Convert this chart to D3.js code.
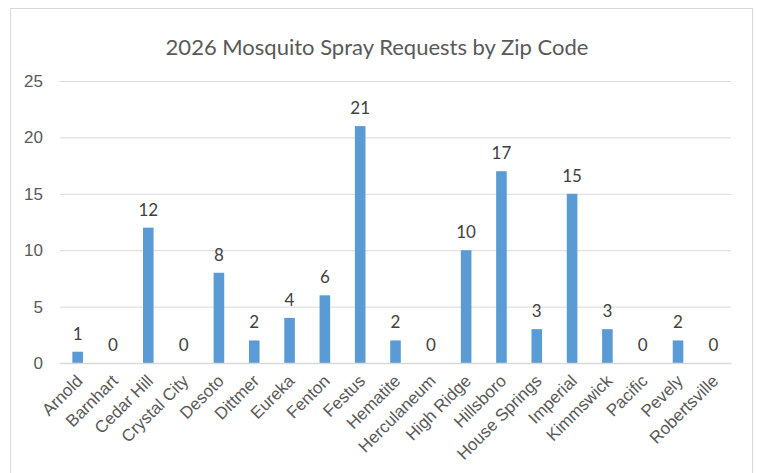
<!DOCTYPE html>
<html>
<head>
<meta charset="utf-8">
<script src="https://cdn.jsdelivr.net/npm/d3@7"></script>
<style>
  body { margin: 0; background: #fff; }
  svg { display: block; font-family: Lato, "Open Sans", sans-serif; }
</style>
</head>
<body>
<div id="chart"></div>
<script>
// chart data
const towns = ["Arnold", "Barnhart", "Cedar Hill", "Crystal City", "Desoto", "Dittmer", "Eureka",
  "Fenton", "Festus", "Hematite", "Herculaneum", "High Ridge", "Hillsboro", "House Springs",
  "Imperial", "Kimmswick", "Pacific", "Pevely", "Robertsville"];
const requests = [1, 0, 12, 0, 8, 2, 4, 6, 21, 2, 0, 10, 17, 3, 15, 3, 0, 2, 0];
const yTicks = [0, 5, 10, 15, 20, 25];
const title = "2026 Mosquito Spray Requests by Zip Code";

const W = 757, H = 473;
const margin = { top: 81, right: 26, bottom: 110, left: 60 };
const innerW = W - margin.left - margin.right;
const innerH = H - margin.top - margin.bottom;

const svg = d3.select("#chart").append("svg")
  .attr("width", W)
  .attr("height", H);

// outer chart border
svg.append("rect")
  .attr("x", 10.5).attr("y", 8.5)
  .attr("width", 742).attr("height", 480)
  .attr("fill", "none")
  .attr("stroke", "#d9d9d9");

svg.append("text")
  .attr("x", 377)
  .attr("y", 55)
  .attr("text-anchor", "middle")
  .attr("fill", "#595959")
  .style("font-size", "22px")
  .text(title);

const g = svg.append("g").attr("transform", `translate(${margin.left},${margin.top})`);

const x = d3.scaleBand().domain(towns).range([0, innerW]).paddingInner(0.7).paddingOuter(0.35);
const y = d3.scaleLinear().domain([0, 25]).range([innerH, 0]);

// gridlines + y labels
const yAxis = g.append("g")
  .call(d3.axisLeft(y).tickValues(yTicks).tickSize(-innerW).tickPadding(17));
yAxis.select(".domain").remove();
yAxis.selectAll(".tick line").attr("stroke", "#d9d9d9");
yAxis.selectAll(".tick text").attr("fill", "#595959").style("font-size", "17px");

// bars
g.selectAll(".bar")
  .data(towns)
  .join("rect")
  .attr("class", "bar")
  .attr("x", (d) => x(d))
  .attr("y", (d, i) => y(requests[i]))
  .attr("width", x.bandwidth())
  .attr("height", (d, i) => innerH - y(requests[i]))
  .attr("fill", "#5b9bd5");

// value labels
g.selectAll(".val")
  .data(towns)
  .join("text")
  .attr("class", "val")
  .attr("x", (d) => x(d) + x.bandwidth() / 2)
  .attr("y", (d, i) => y(requests[i]) - 12)
  .attr("text-anchor", "middle")
  .attr("fill", "#404040")
  .style("font-size", "17px")
  .text((d, i) => requests[i]);

// x axis
const xAxis = g.append("g")
  .attr("transform", `translate(0,${innerH})`)
  .call(d3.axisBottom(x).tickSize(0).tickPadding(0));
xAxis.select(".domain").attr("stroke", "#d9d9d9").attr("stroke-width", 1.5);
xAxis.selectAll(".tick text")
  .attr("fill", "#595959")
  .style("font-size", "17px")
  .attr("text-anchor", "end")
  .attr("dy", "0")
  .attr("transform", "translate(6,19) rotate(-45)");
</script>
</body>
</html>
